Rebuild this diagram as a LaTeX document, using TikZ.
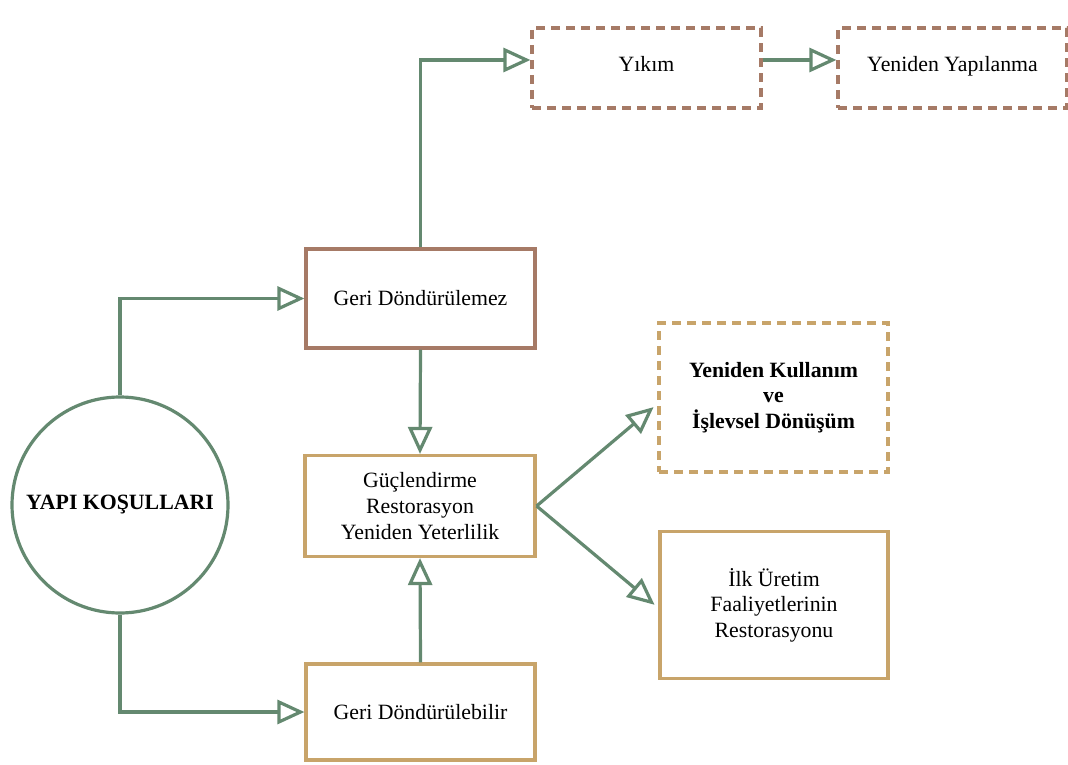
\documentclass[tikz,border=0pt]{standalone}
\usepackage{fontspec}
\setmainfont{Liberation Serif}
\usetikzlibrary{arrows.meta}
\definecolor{cgreen}{RGB}{100,137,112}
\definecolor{cbrown}{RGB}{166,122,102}
\definecolor{ctan}{RGB}{200,164,106}
\tikzset{
  box/.style={draw, line width=1.6pt, rectangle, inner sep=0pt, align=center,
    font=\fontsize{10.9pt}{12.8pt}\selectfont},
  brownbox/.style={box, draw=cbrown},
  tanbox/.style={box, draw=ctan},
  dashbox/.style={dash pattern=on 4.5pt off 3pt},
  conn/.style={draw=cgreen, line width=1.6pt, -{Triangle[open, length=13.5pt, width=12pt]}},
}
\begin{document}
\begin{tikzpicture}[x=0.5pt, y=-0.5pt]
\useasboundingbox (0,0) rectangle (1068,764);
\node[draw=cgreen, line width=1.6pt, circle, minimum size=108pt, inner sep=0pt,
  font=\fontsize{10.9pt}{12.8pt}\selectfont\bfseries] (circ) at (120,505) {\raisebox{3pt}{YAPI KOŞULLARI}};
\node[brownbox, minimum width=114.5pt, minimum height=49.5pt] (gdz) at (420.5,298.5) {Geri Döndürülemez};
\node[tanbox, minimum width=115pt, minimum height=50.5pt] (gucl) at (420,506) {Güçlendirme\\Restorasyon\\Yeniden Yeterlilik};
\node[tanbox, minimum width=114.5pt, minimum height=48pt] (gdb) at (420.5,712) {Geri Döndürülebilir};
\node[brownbox, dashbox, minimum width=114.5pt, minimum height=40pt] (yikim) at (646.5,68) {\raisebox{4pt}{Yıkım}};
\node[brownbox, dashbox, minimum width=114.5pt, minimum height=40pt] (yyap) at (952.5,68) {\raisebox{4pt}{Yeniden Yapılanma}};
\node[tanbox, dashbox, minimum width=114.5pt, minimum height=74.5pt, font=\fontsize{10.9pt}{12.6pt}\selectfont\bfseries] (ykul) at (773.5,397.5) {Yeniden Kullanım\\ve\\İşlevsel Dönüşüm};
\node[tanbox, minimum width=114pt, minimum height=73.5pt] (ilk) at (774,605) {İlk Üretim\\Faaliyetlerinin\\Restorasyonu};
\draw[conn] (circ.north) |- (gdz.west);
\draw[conn] (circ.south) |- (gdb.west);
\draw[conn] (gdz.north) |- ([yshift=4pt]yikim.west);
\draw[conn] ([yshift=4pt]yikim.east) -- ([yshift=4pt]yyap.west);
\draw[conn] (gdz.south) -- (gucl.north);
\draw[conn] (gdb.north) -- (gucl.south);
\draw[conn, shorten >=2.5pt] (gucl.east) -- ([yshift=-3.2pt]ykul.west);
\draw[conn, shorten >=2.5pt] (gucl.east) -- ([yshift=-1.5pt]ilk.west);
\end{tikzpicture}
\end{document}
